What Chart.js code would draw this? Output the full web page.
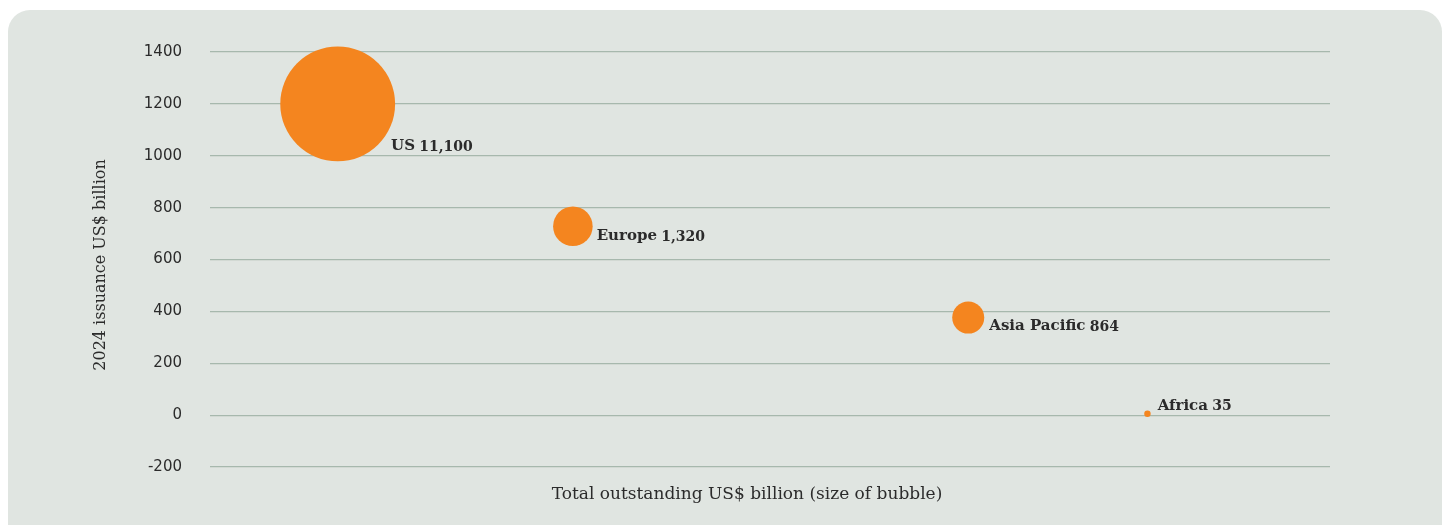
<!DOCTYPE html>
<html>
<head>
<meta charset="utf-8">
<script src="https://cdn.jsdelivr.net/npm/chart.js@4"></script>
<style>
  html, body { margin: 0; padding: 0; background: #ffffff; width: 1450px; height: 525px; overflow: hidden; }
  #bg { position: absolute; left: 8px; top: 10px; width: 1434px; height: 540px; border-radius: 22px; background: #e0e5e1; }
  #wrap { position: absolute; left: 0; top: 0; width: 1450px; height: 525px; }
</style>
</head>
<body>
<div id="bg"></div>
<div id="wrap"><canvas id="c" width="1450" height="525"></canvas></div>
<script>
// ---- data ----
const regions = ["US", "Europe", "Asia Pacific", "Africa"];
const outstanding = [11100, 1320, 864, 35];          // US$ billion (bubble size)
const issuance2024 = [1200, 728, 376, 5];             // US$ billion (y)
const xPosition = [11.4, 32.4, 67.7, 83.7];           // horizontal placement (no x scale shown)
const outstandingLabels = ["11,100", "1,320", "864", "35"];
const yTicks = [-200, 0, 200, 400, 600, 800, 1000, 1200, 1400];

// ---- style ----
const ORANGE = '#f4851f';
const TEXT = '#2b2b2b';
const GRID = '#a7b8ad';
const SERIF = '"DejaVu Serif", "Liberation Serif", serif';
const SANS = '"DejaVu Sans", sans-serif';
const labelOffsets = [ [-4, 42], [4, 10], [5, 9], [7, -8] ]; // dx beyond radius, dy from centre

const points = regions.map((r, i) => ({
  x: xPosition[i],
  y: issuance2024[i],
  r: 0.545 * Math.sqrt(outstanding[i])
}));

const textPlugin = {
  id: 'texts',
  afterDatasetsDraw(chart) {
    const ctx = chart.ctx;
    const meta = chart.getDatasetMeta(0);
    ctx.save();
    ctx.fillStyle = TEXT;
    ctx.textBaseline = 'middle';
    meta.data.forEach((el, i) => {
      const r = points[i].r;
      let x = el.x + r + labelOffsets[i][0];
      const y = el.y + labelOffsets[i][1];
      ctx.textAlign = 'left';
      ctx.font = '600 15px ' + SERIF;
      const name = regions[i] + ' ';
      ctx.fillText(name, x, y);
      x += ctx.measureText(name).width - 1;
      ctx.font = '600 14px ' + SERIF;
      ctx.fillText(outstandingLabels[i], x, y + 1);
    });
    // x axis title
    ctx.font = '17px ' + SERIF;
    ctx.textAlign = 'center';
    ctx.fillText('Total outstanding US$ billion (size of bubble)', 747, 495);
    // y axis title
    ctx.font = '16px ' + SERIF;
    ctx.translate(101, 265);
    ctx.rotate(-Math.PI / 2);
    ctx.fillText('2024 issuance US$ billion', 0, 0);
    ctx.restore();
  }
};

new Chart(document.getElementById('c'), {
  type: 'bubble',
  data: {
    datasets: [{
      data: points,
      backgroundColor: ORANGE,
      borderWidth: 0,
      hoverBorderWidth: 0,
      hoverRadius: 0,
      clip: false
    }]
  },
  options: {
    responsive: false,
    animation: false,
    events: [],
    layout: { autoPadding: false, padding: { left: 0, right: 120, top: 52, bottom: 58 } },
    plugins: { legend: { display: false }, tooltip: { enabled: false } },
    scales: {
      x: { type: 'linear', min: 0, max: 100, display: false },
      y: {
        type: 'linear',
        min: -200, max: 1400,
        afterBuildTicks(scale) { scale.ticks = yTicks.map(v => ({ value: v })); },
        afterFit(scale) { scale.width = 210; },
        border: { display: false },
        grid: { color: GRID, lineWidth: 1.2, drawTicks: false },
        ticks: { padding: 28, color: TEXT, font: { family: SANS, size: 15 }, callback: v => String(v) }
      }
    }
  },
  plugins: [textPlugin]
});
</script>
</body>
</html>
